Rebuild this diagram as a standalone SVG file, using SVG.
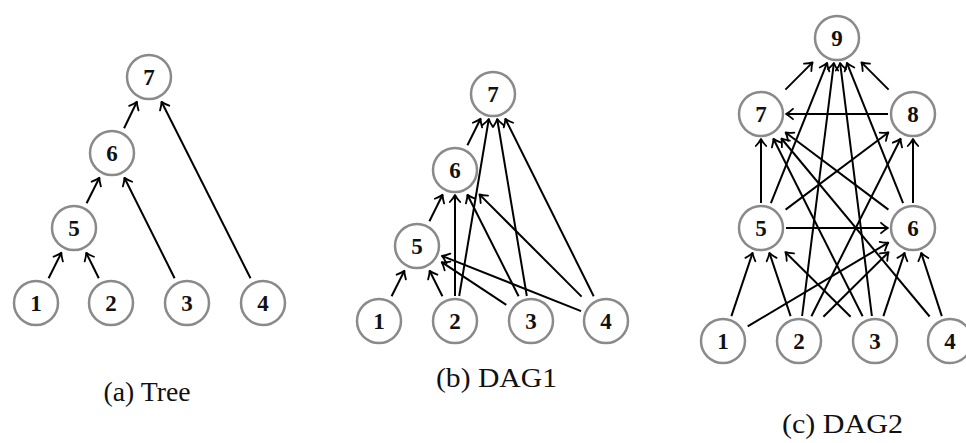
<svg xmlns="http://www.w3.org/2000/svg" width="966" height="443" viewBox="0 0 966 443">
<style>
.n circle{fill:#fff;stroke:#8a8a8a;stroke-width:2.5}
.n text{font-family:"Liberation Serif","Times New Roman",serif;font-weight:bold;font-size:23px;text-anchor:middle;fill:#111}
.e line{stroke:#000;stroke-width:2;marker-end:url(#ar)}
.cap{font-family:"Liberation Serif","Times New Roman",serif;font-size:27px;fill:#111}
</style>
<defs>
<marker id="ar" markerUnits="userSpaceOnUse" viewBox="-9 -7 11 14" refX="0" refY="0" markerWidth="11" markerHeight="14" orient="auto" overflow="visible">
<path d="M-7,-5.2 Q-2.8,-1.3 0,0 Q-2.8,1.3 -7,5.2" fill="none" stroke="#000" stroke-width="1.8" stroke-linecap="round" stroke-linejoin="round"/>
</marker>
</defs>
<rect width="966" height="443" fill="#fff"/>

<g id="connectors" class="e">
<!-- Tree -->
<line x1="48.6" y1="278.2" x2="61.4" y2="252.8"/>
<line x1="98.8" y1="278.2" x2="86.2" y2="252.8"/>
<line x1="86.6" y1="203.2" x2="99.4" y2="177.8"/>
<line x1="174.6" y1="278.2" x2="124.4" y2="177.8"/>
<line x1="124.1" y1="128.2" x2="136.9" y2="101.8"/>
<line x1="250.5" y1="278.2" x2="161.5" y2="101.8"/>
<!-- DAG1 -->
<line x1="391.6" y1="296.2" x2="404.4" y2="270.8"/>
<line x1="442.4" y1="296.2" x2="429.6" y2="270.8"/>
<line x1="506.3" y1="304.8" x2="441.7" y2="262.2"/>
<line x1="581.1" y1="311.1" x2="441.9" y2="255.9"/>
<line x1="429.4" y1="221.2" x2="442.6" y2="194.8"/>
<line x1="455" y1="296" x2="455" y2="195"/>
<line x1="518.6" y1="296.2" x2="467.4" y2="194.8"/>
<line x1="581.6" y1="296.6" x2="479.4" y2="194.4"/>
<line x1="467.4" y1="145.2" x2="480.6" y2="118.8"/>
<line x1="459.2" y1="296" x2="488.8" y2="119"/>
<line x1="526.8" y1="296" x2="497.2" y2="119"/>
<line x1="593.7" y1="296.2" x2="505.3" y2="118.8"/>
<!-- DAG2 -->
<line x1="731.4" y1="316.1" x2="752.6" y2="252.9"/>
<line x1="747.7" y1="326.3" x2="888.3" y2="242.7"/>
<line x1="790.6" y1="316.1" x2="769.4" y2="252.9"/>
<line x1="823.4" y1="316.8" x2="888.6" y2="252.2"/>
<line x1="811.4" y1="316.2" x2="900.6" y2="138.8"/>
<line x1="802.1" y1="316" x2="833.9" y2="63"/>
<line x1="850.6" y1="316.8" x2="785.4" y2="252.2"/>
<line x1="883.4" y1="316.1" x2="904.6" y2="252.9"/>
<line x1="862.6" y1="316.2" x2="773.4" y2="138.8"/>
<line x1="871.9" y1="316" x2="840.1" y2="63"/>
<line x1="941.8" y1="316.1" x2="921.2" y2="252.9"/>
<line x1="929.6" y1="316.5" x2="781.4" y2="138.5"/>
<line x1="786" y1="228" x2="888" y2="228"/>
<line x1="761" y1="203" x2="761" y2="139"/>
<line x1="785.6" y1="209.6" x2="888.4" y2="132.5"/>
<line x1="770.9" y1="203.1" x2="827.1" y2="62.9"/>
<line x1="888.4" y1="209.6" x2="785.6" y2="132.5"/>
<line x1="913" y1="203" x2="913" y2="139"/>
<line x1="903.1" y1="203.1" x2="846.9" y2="62.9"/>
<line x1="785.4" y1="89.6" x2="812.6" y2="62.4"/>
<line x1="888.6" y1="89.6" x2="861.4" y2="62.4"/>
<line x1="888" y1="114" x2="786" y2="114"/>
</g>

<!-- Tree nodes -->
<g id="a1" class="n"><circle cx="36" cy="303" r="22"/><text x="36" y="311">1</text></g>
<g id="a2" class="n"><circle cx="111" cy="303" r="22"/><text x="111" y="311">2</text></g>
<g id="a3" class="n"><circle cx="187" cy="303" r="22"/><text x="187" y="311">3</text></g>
<g id="a4" class="n"><circle cx="263" cy="303" r="22"/><text x="263" y="311">4</text></g>
<g id="a5" class="n"><circle cx="74" cy="228" r="22"/><text x="74" y="236">5</text></g>
<g id="a6" class="n"><circle cx="112" cy="153" r="22"/><text x="112" y="161">6</text></g>
<g id="a7" class="n"><circle cx="149" cy="77" r="22"/><text x="149" y="85">7</text></g>

<!-- DAG1 nodes -->
<g id="b1" class="n"><circle cx="379" cy="321" r="22"/><text x="379" y="329">1</text></g>
<g id="b2" class="n"><circle cx="455" cy="321" r="22"/><text x="455" y="329">2</text></g>
<g id="b3" class="n"><circle cx="531" cy="321" r="22"/><text x="531" y="329">3</text></g>
<g id="b4" class="n"><circle cx="606" cy="321" r="22"/><text x="606" y="329">4</text></g>
<g id="b5" class="n"><circle cx="417" cy="246" r="22"/><text x="417" y="254">5</text></g>
<g id="b6" class="n"><circle cx="455" cy="170" r="22"/><text x="455" y="178">6</text></g>
<g id="b7" class="n"><circle cx="493" cy="94" r="22"/><text x="493" y="102">7</text></g>

<!-- DAG2 nodes -->
<g id="c1" class="n"><circle cx="723" cy="341" r="22"/><text x="723" y="349">1</text></g>
<g id="c2" class="n"><circle cx="799" cy="341" r="22"/><text x="799" y="349">2</text></g>
<g id="c3" class="n"><circle cx="875" cy="341" r="22"/><text x="875" y="349">3</text></g>
<g id="c4" class="n"><circle cx="950" cy="341" r="22"/><text x="950" y="349">4</text></g>
<g id="c5" class="n"><circle cx="761" cy="228" r="22"/><text x="761" y="236">5</text></g>
<g id="c6" class="n"><circle cx="913" cy="228" r="22"/><text x="913" y="236">6</text></g>
<g id="c7" class="n"><circle cx="761" cy="114" r="22"/><text x="761" y="122">7</text></g>
<g id="c8" class="n"><circle cx="913" cy="114" r="22"/><text x="913" y="122">8</text></g>
<g id="c9" class="n"><circle cx="837" cy="38" r="22"/><text x="837" y="46">9</text></g>

<g id="captions">
<text class="cap" x="103.5" y="401" textLength="87" lengthAdjust="spacingAndGlyphs">(a) Tree</text>
<text class="cap" x="436" y="386.5" textLength="121" lengthAdjust="spacingAndGlyphs">(b) DAG1</text>
<text class="cap" x="782" y="433" textLength="121" lengthAdjust="spacingAndGlyphs">(c) DAG2</text>
</g>
</svg>
